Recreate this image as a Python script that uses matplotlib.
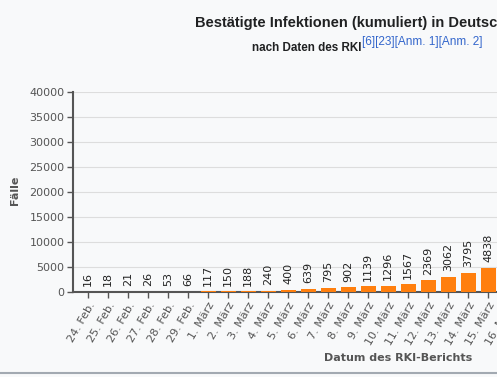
import matplotlib
matplotlib.use("Agg")
import matplotlib.pyplot as plt
from matplotlib.lines import Line2D

# data (the chart is cropped on the right)
dates = ["24. Feb.", "25. Feb.", "26. Feb.", "27. Feb.", "28. Feb.", "29. Feb.",
         "1. März", "2. März", "3. März", "4. März", "5. März", "6. März",
         "7. März", "8. März", "9. März", "10. März", "11. März", "12. März",
         "13. März", "14. März", "15. März", "16. März"]
cases = [16, 18, 21, 26, 53, 66, 117, 150, 188, 240, 400, 639,
         795, 902, 1139, 1296, 1567, 2369, 3062, 3795, 4838]
yticks = [0, 5000, 10000, 15000, 20000, 25000, 30000, 35000, 40000]

BG = "#f8f9fa"
BAR = "#ff7f0e"
AX = "#555555"

W, H = 497, 377
fig = plt.figure(figsize=(W / 100, H / 100), dpi=100, facecolor=BG)

# axes in pixel terms: spine at x=73, y=0 at 292, 40000 at 92, runs past right edge
left, right_px, y0, y1 = 73, 560, 292, 92
ax = fig.add_axes([left / W, (H - y0) / H, (right_px - left) / W, (y0 - y1) / H])
ax.set_facecolor(BG)

xs = list(range(len(cases)))
ax.bar(xs, cases, width=0.75, color=BAR, zorder=3)
for x, v in zip(xs, cases):
    ax.annotate(str(v), (x, v), xytext=(0, 4), textcoords="offset points",
                rotation=90, ha="center", va="bottom", fontsize=8, color="#222222")

ax.set_xlim(-0.75, -0.75 + (right_px - left) / 20)
ax.set_ylim(0, 40000)
ax.set_yticks(yticks)
ax.set_yticklabels([str(t) for t in yticks])
ax.set_xticks(range(len(dates)))
ax.set_xticklabels(dates, rotation=60, ha="right", rotation_mode="anchor")
ax.grid(axis="y", color="#dddddd", lw=0.8, zorder=0)
ax.tick_params(axis="both", colors=AX, labelcolor=AX, labelsize=8,
               length=4, width=1, pad=2)

for s in ["top", "right"]:
    ax.spines[s].set_visible(False)
for s in ["left", "bottom"]:
    ax.spines[s].set_color(AX)
    ax.spines[s].set_linewidth(1.5)

fig.text(15 / W, 1 - 190 / H, "Fälle", rotation=90, ha="center", va="center",
         fontsize=8, fontweight="bold", color=AX)
fig.text(398 / W, 1 - 358 / H, "Datum des RKI-Berichts", ha="center", va="center",
         fontsize=8, fontweight="bold", color=AX)

# title is cut off by the right edge, as in the reference
fig.text(195 / W, 1 - 23 / H, "Bestätigte Infektionen (kumuliert) in Deutschland",
         ha="left", va="center", fontsize=10.5, fontweight="bold",
         family="Liberation Sans", color="#202122")
fig.text(252 / W, 1 - 48 / H, "nach Daten des RKI", ha="left", va="center",
         fontsize=8.4, fontweight="bold", family="Liberation Sans", color="#202122")
fig.text(362 / W, 1 - 42 / H, "[6][23][Anm. 1][Anm. 2]", ha="left", va="center",
         fontsize=8.5, family="Liberation Sans", color="#3366cc")

fig.add_artist(Line2D([0, 1], [1 - 373 / H] * 2, color="#a2a9b1", lw=1.5,
                      transform=fig.transFigure))

fig.savefig("out.png", dpi=100, facecolor=BG)
